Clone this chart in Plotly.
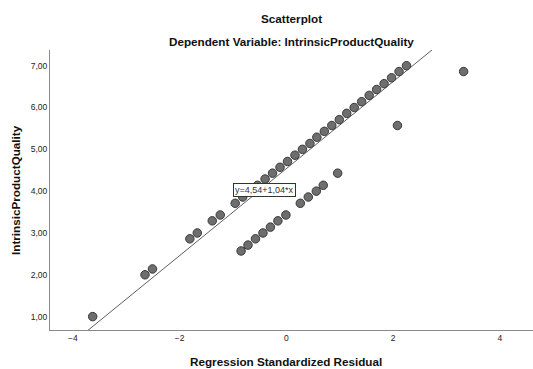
import plotly.graph_objects as go

# Standardized residuals (x) and IntrinsicProductQuality (y)
residuals = [
    -3.63, -2.65, -2.51, -1.81, -1.67, -1.39, -1.24,
    -0.96, -0.82, -0.68, -0.54, -0.40, -0.26, -0.12, 0.02, 0.16, 0.30,
    0.44, 0.57, 0.71, 0.85, 0.99, 1.13, 1.27, 1.41, 1.55, 1.69, 1.83,
    1.97, 2.11, 2.25,
    -0.85, -0.72, -0.58, -0.44, -0.30, -0.16, -0.01, 0.26, 0.41, 0.56,
    0.69, 0.96,
    2.08, 3.32,
]
quality = [
    1.00, 2.00, 2.14, 2.86, 3.00, 3.29, 3.43,
    3.71, 3.86, 4.00, 4.14, 4.29, 4.43, 4.57, 4.71, 4.86, 5.00,
    5.14, 5.29, 5.43, 5.57, 5.71, 5.86, 6.00, 6.14, 6.29, 6.43, 6.57,
    6.71, 6.86, 7.00,
    2.57, 2.71, 2.86, 3.00, 3.14, 3.29, 3.43, 3.71, 3.86, 4.00,
    4.14, 4.43,
    5.57, 6.86,
]
fit_intercept = 4.54
fit_slope = 1.04
fit_label = "y=4,54+1,04*x"
x_ticks = [-4, -2, 0, 2, 4]
y_ticks = [1, 2, 3, 4, 5, 6, 7]

x_range = [-4.43, 4.62]
y_range = [0.68, 7.375]

fig = go.Figure()

fit_x = [x_range[0], x_range[1]]
fit_y = [fit_intercept + fit_slope * v for v in fit_x]
fig.add_trace(go.Scatter(
    x=fit_x, y=fit_y, mode="lines",
    line=dict(color="#5f5f5f", width=1),
    hoverinfo="skip", showlegend=False,
))

fig.add_trace(go.Scatter(
    x=residuals, y=quality, mode="markers",
    marker=dict(size=8.5, color="#6e6e6e", line=dict(color="#3a3a3a", width=1)),
    showlegend=False, cliponaxis=False,
))

font_family = "Liberation Sans, Arial, sans-serif"
title_size = 11.7

fig.add_annotation(
    x=-0.42, y=4.02, xref="x", yref="y", text=fit_label, showarrow=False,
    font=dict(family=font_family, size=9, color="#333333"),
    bgcolor="white", bordercolor="#333333", borderwidth=1, borderpad=1,
)

fig.add_annotation(
    x=0.5, y=1.114, xref="paper", yref="paper", text="<b>Scatterplot</b>",
    showarrow=False, xanchor="center", yanchor="middle",
    font=dict(family=font_family, size=title_size, color="#111111"),
)
fig.add_annotation(
    x=0.5, y=1.032, xref="paper", yref="paper",
    text="<b>Dependent Variable: IntrinsicProductQuality</b>",
    showarrow=False, xanchor="center", yanchor="middle",
    font=dict(family=font_family, size=title_size, color="#111111"),
)
fig.add_annotation(
    x=0.488, y=-0.114, xref="paper", yref="paper",
    text="<b>Regression Standardized Residual</b>",
    showarrow=False, xanchor="center", yanchor="middle",
    font=dict(family=font_family, size=title_size, color="#111111"),
)
fig.add_annotation(
    x=-0.0725, y=0.5, xref="paper", yref="paper",
    text="<b>IntrinsicProductQuality</b>", textangle=-90,
    showarrow=False, xanchor="center", yanchor="middle",
    font=dict(family=font_family, size=title_size, color="#111111"),
)

fig.update_layout(
    width=533, height=369,
    margin=dict(l=50, r=0, t=50, b=39),
    plot_bgcolor="white", paper_bgcolor="white",
    separators=",.",
    xaxis=dict(
        range=x_range, tickvals=x_ticks, showgrid=False, zeroline=False,
        showline=True, linecolor="#8a8a8a", linewidth=1, ticks="",
        tickfont=dict(family=font_family, size=8.5, color="#222222"),
    ),
    yaxis=dict(
        range=y_range, tickvals=y_ticks, tickformat=".2f", showgrid=False,
        zeroline=False, showline=True, linecolor="#8a8a8a", linewidth=1,
        ticks="", tickfont=dict(family=font_family, size=8.5, color="#222222"),
    ),
)

fig.write_html("out.html")
